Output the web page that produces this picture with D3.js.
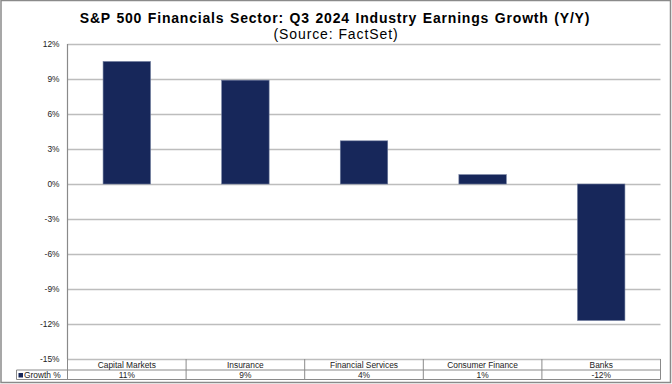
<!DOCTYPE html>
<html>
<head>
<meta charset="utf-8">
<script src="https://cdn.jsdelivr.net/npm/d3@7"></script>
<style>
  body { margin: 0; background: #fff; }
  svg { display: block; font-family: Arial, "Liberation Sans", sans-serif; }
</style>
</head>
<body>
<svg class="chart" width="672" height="384"></svg>
<script>
var categories = ["Capital Markets", "Insurance", "Financial Services", "Consumer Finance", "Banks"];
var growth = [10.5, 8.9, 3.7, 0.8, -11.7];
var tableLabels = ["11%", "9%", "4%", "1%", "-12%"];
var yTicks = [12, 9, 6, 3, 0, -3, -6, -9, -12, -15];
var seriesName = "Growth %";

var svg = d3.select("svg.chart"),
    margin = {top: 44, right: 11.5, bottom: 25, left: 67.5},
    width = 672 - margin.left - margin.right,
    height = 384 - margin.top - margin.bottom;

var data = categories.map(function(c, i) {
    return {name: c, value: growth[i], label: tableLabels[i]};
});

var smallFont = "8.4px Arial, 'Liberation Sans', sans-serif";

// outer frame
svg.append("rect")
    .attr("x", 1).attr("y", 0.5)
    .attr("width", 669.5).attr("height", 382)
    .attr("fill", "none")
    .attr("stroke", "#8a8a8a")
    .attr("stroke-width", 1.5);

svg.append("text")
    .attr("x", 335).attr("y", 23)
    .attr("text-anchor", "middle")
    .style("font", "bold 14px Arial, 'Liberation Sans', sans-serif")
    .style("letter-spacing", "0.8px")
    .style("word-spacing", "1px")
    .text("S&P 500 Financials Sector: Q3 2024 Industry Earnings Growth (Y/Y)");

svg.append("text")
    .attr("x", 336).attr("y", 39)
    .attr("text-anchor", "middle")
    .style("font", "14px Arial, 'Liberation Sans', sans-serif")
    .style("letter-spacing", "0.9px")
    .text("(Source: FactSet)");

var g = svg.append("g").attr("transform", "translate(" + margin.left + "," + margin.top + ")");

var x = d3.scaleBand()
    .domain(categories)
    .range([0, width])
    .paddingInner(0.6)
    .paddingOuter(0.3);

var y = d3.scaleLinear().domain([-15, 12]).range([315, 0]);

// gridlines + tick labels
g.append("g")
    .attr("class", "axis axis--y")
    .call(d3.axisLeft(y).tickValues(yTicks).tickSize(-width).tickFormat(function(d) { return d + "%"; }))
    .call(function(a) {
        a.select(".domain").remove();
        a.selectAll(".tick line").attr("stroke", "#bdbdbd").attr("stroke-width", 1.3);
        a.selectAll(".tick text")
            .attr("x", -8)
            .attr("fill", "#222")
            .style("font", smallFont);
    });

g.append("line")
    .attr("x1", 0).attr("x2", 0)
    .attr("y1", 0).attr("y2", y(-15))
    .attr("stroke", "#8a8a8a")
    .attr("stroke-width", 1.2);

g.selectAll(".bar")
    .data(data)
    .enter()
    .append("rect")
    .attr("class", "bar")
    .attr("x", function(d) { return x(d.name); })
    .attr("width", x.bandwidth())
    .attr("y", function(d) { return y(Math.max(0, d.value)); })
    .attr("height", function(d) { return Math.abs(y(d.value) - y(0)); })
    .attr("fill", "#17275a")
    .attr("stroke", "#6d7a9c")
    .attr("stroke-width", 0.6);

// data table under the plot
var rowTop = y(-15), rowMid = rowTop + 11, rowBot = rowTop + 20.5;
var table = g.append("g").attr("class", "table");
var tcol = "#8a8a8a";

table.append("line").attr("x1", 0).attr("x2", width).attr("y1", rowMid).attr("y2", rowMid).attr("stroke", tcol);
table.append("line").attr("x1", -51).attr("x2", width).attr("y1", rowBot).attr("y2", rowBot).attr("stroke", tcol);
table.append("line").attr("x1", -51).attr("x2", 0).attr("y1", rowMid).attr("y2", rowMid).attr("stroke", tcol);
table.append("line").attr("x1", -51).attr("x2", -51).attr("y1", rowMid).attr("y2", rowBot).attr("stroke", tcol);
table.append("line").attr("x1", width).attr("x2", width).attr("y1", rowTop).attr("y2", rowBot).attr("stroke", tcol);

table.selectAll(".sep")
    .data(categories)
    .enter()
    .append("line")
    .attr("class", "sep")
    .attr("x1", function(d) { return x(d) - x.step() * x.paddingOuter(); })
    .attr("x2", function(d) { return x(d) - x.step() * x.paddingOuter(); })
    .attr("y1", rowTop)
    .attr("y2", rowBot)
    .attr("stroke", tcol);

table.selectAll(".cat")
    .data(data)
    .enter()
    .append("text")
    .attr("x", function(d) { return x(d.name) + x.bandwidth() / 2; })
    .attr("y", rowTop + 8.5)
    .attr("text-anchor", "middle")
    .style("font", smallFont)
    .attr("fill", "#222")
    .text(function(d) { return d.name; });

table.selectAll(".val")
    .data(data)
    .enter()
    .append("text")
    .attr("x", function(d) { return x(d.name) + x.bandwidth() / 2; })
    .attr("y", rowMid + 7.8)
    .attr("text-anchor", "middle")
    .style("font", smallFont)
    .attr("fill", "#222")
    .text(function(d) { return d.label; });

table.append("rect")
    .attr("x", -49).attr("y", rowMid + 3)
    .attr("width", 4.5).attr("height", 4.5)
    .attr("fill", "#17275a");

table.append("text")
    .attr("x", -43.5).attr("y", rowMid + 7.8)
    .style("font", smallFont)
    .attr("fill", "#222")
    .text(seriesName);
</script>
</body>
</html>
